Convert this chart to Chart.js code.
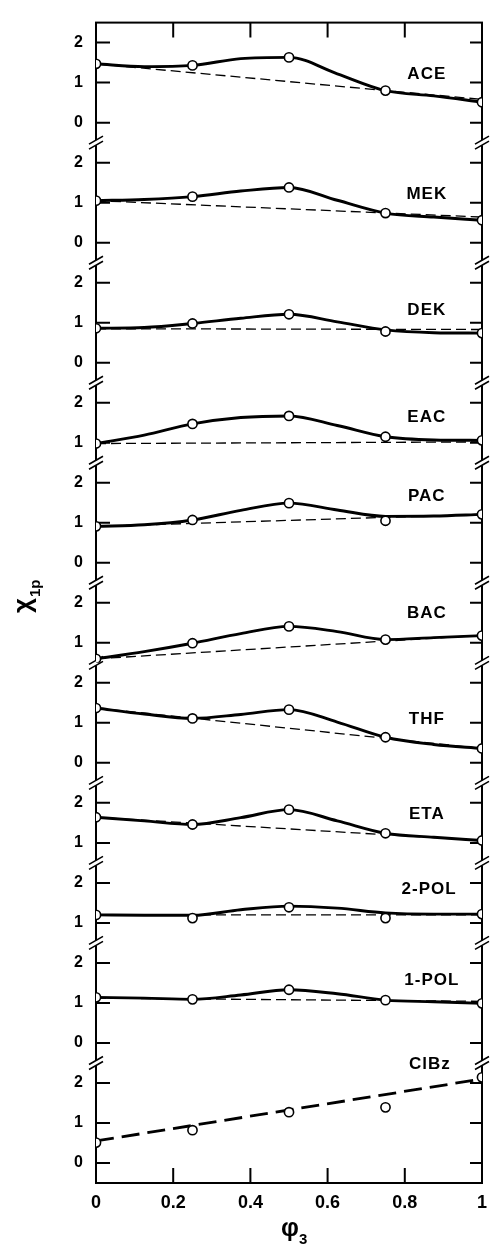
<!DOCTYPE html>
<html>
<head>
<meta charset="utf-8">
<title>chi 1p vs phi3</title>
<style>
  html, body { margin: 0; padding: 0; background: #fff; }
  #wrap { width: 496px; height: 1244px; }
</style>
</head>
<body>
<div id="wrap"><canvas id="chart"></canvas></div>
<script src="https://cdn.jsdelivr.net/npm/chart.js@4/dist/chart.umd.min.js"></script>
<script>
const solvents = ['ACE', 'MEK', 'DEK', 'EAC', 'PAC', 'BAC', 'THF', 'ETA', '2-POL', '1-POL', 'ClBz'];
// lowest tick value printed on each panel's axis
const lowestTick = [0, 0, 0, 1, 0, 1, 0, 1, 1, 0, 0];
const yTicks = [0, 1, 2];
const xTicks = [0, 0.2, 0.4, 0.6, 0.8, 1];

const phi3 = [0, 0.25, 0.5, 0.75, 1];
const chiMeasured = [
    [1.47, 1.43, 1.63, 0.80, 0.51],
    [1.05, 1.15, 1.38, 0.74, 0.56],
    [0.86, 0.98, 1.21, 0.78, 0.74],
    [0.98, 1.47, 1.67, 1.15, 1.06],
    [0.91, 1.07, 1.49, 1.05, 1.21],
    [0.60, 0.99, 1.41, 1.08, 1.18],
    [1.37, 1.11, 1.33, 0.64, 0.36],
    [1.64, 1.46, 1.83, 1.24, 1.06],
    [1.20, 1.12, 1.39, 1.12, 1.22],
    [1.14, 1.09, 1.33, 1.07, 0.99],
    [0.51, 0.82, 1.27, 1.39, 2.14]
];

// drawn smooth curves (ClBz has none)
const phi3Curve = [0, 0.125, 0.25, 0.375, 0.5, 0.625, 0.75, 0.875, 1];
const chiCurve = [
    [1.47, 1.40, 1.43, 1.60, 1.63, 1.22, 0.80, 0.67, 0.51],
    [1.05, 1.08, 1.15, 1.29, 1.38, 1.06, 0.74, 0.64, 0.56],
    [0.86, 0.88, 0.98, 1.11, 1.21, 1.02, 0.82, 0.75, 0.74],
    [0.98, 1.19, 1.47, 1.63, 1.67, 1.43, 1.15, 1.07, 1.06],
    [0.91, 0.95, 1.07, 1.31, 1.49, 1.32, 1.16, 1.17, 1.21],
    [0.60, 0.78, 0.99, 1.23, 1.41, 1.28, 1.08, 1.13, 1.18],
    [1.37, 1.22, 1.11, 1.21, 1.33, 1.02, 0.64, 0.46, 0.36],
    [1.64, 1.55, 1.46, 1.63, 1.83, 1.55, 1.24, 1.14, 1.06],
    [1.20, 1.19, 1.19, 1.33, 1.42, 1.37, 1.25, 1.22, 1.22],
    [1.14, 1.12, 1.09, 1.20, 1.33, 1.23, 1.07, 1.03, 0.99],
    null
];

// dashed straight lines, values at phi3 = 0 and 1
const chiIdeal = [
    [1.47, 0.58], [1.05, 0.64], [0.85, 0.83], [0.98, 1.02], [0.91, 1.21], [0.60, 1.19],
    [1.37, 0.36], [1.64, 1.06], [1.20, 1.20], [1.12, 1.04], [0.55, 2.10]
];

// where the solvent names sit: [phi3, chi]
const labelAt = [
    [0.857, 1.2], [0.857, 1.2], [0.857, 1.31], [0.857, 1.64], [0.857, 1.65], [0.857, 1.74],
    [0.857, 1.08], [0.857, 1.71], [0.863, 1.85], [0.87, 1.56], [0.865, 2.47]
];

const FONT = "'Liberation Sans', Arial, sans-serif";
Chart.defaults.font.family = FONT;
Chart.defaults.color = '#000';

const last = solvents.length - 1;

const scales = {
    x: {
        type: 'linear',
        position: 'bottom',
        min: 0,
        max: 1,
        grid: { display: false, drawTicks: false },
        border: { display: false },
        ticks: {
            padding: 9,
            font: { size: 18, weight: 'bold' },
            callback: v => (v === 0 || v === 1) ? String(v) : v.toFixed(1)
        },
        afterBuildTicks: s => { s.ticks = xTicks.map(v => ({ value: v })); },
        afterFit: s => { s.height = 61; }
    }
};

solvents.forEach((name, i) => {
    const min = lowestTick[i] - 0.5;
    scales['y' + i] = {
        type: 'linear',
        position: 'left',
        stack: 'panels',
        stackWeight: 2.5 - min,
        weight: solvents.length - i,
        min: min,
        max: 2.5,
        grid: { display: false, drawTicks: false },
        border: { display: false },
        ticks: { padding: 13, font: { size: 16, weight: 'bold' } },
        afterBuildTicks: s => {
            s.ticks = yTicks.filter(v => v >= lowestTick[i]).map(v => ({ value: v }));
        },
        afterFit: s => { s.width = 96; }
    };
});

const datasets = [];
solvents.forEach((name, i) => {
    const yAxisID = 'y' + i;
    datasets.push({
        label: name,
        yAxisID: yAxisID,
        data: phi3.map((x, j) => ({ x: x, y: chiMeasured[i][j] })),
        showLine: false,
        pointRadius: 4.6,
        pointBackgroundColor: '#fff',
        pointBorderColor: '#000',
        pointBorderWidth: 1.6,
        order: 0
    });
    if (chiCurve[i]) {
        datasets.push({
            label: name + ' curve',
            yAxisID: yAxisID,
            data: phi3Curve.map((x, j) => ({ x: x, y: chiCurve[i][j] })),
            showLine: true,
            cubicInterpolationMode: 'monotone',
            borderColor: '#000',
            borderWidth: 2.9,
            pointRadius: 0,
            order: 1
        });
    }
    datasets.push({
        label: name + ' ideal',
        yAxisID: yAxisID,
        data: [{ x: 0, y: chiIdeal[i][0] }, { x: 1, y: chiIdeal[i][1] }],
        showLine: true,
        borderColor: '#000',
        borderWidth: i === last ? 2.8 : 1.3,
        borderDash: i === last ? [18, 8] : [10, 5],
        pointRadius: 0,
        order: 2
    });
});

const framePlugin = {
    id: 'frame',
    beforeDatasetsDraw(chart) {
        const { ctx, chartArea: a, scales: sc } = chart;
        ctx.save();
        ctx.strokeStyle = '#000';
        ctx.lineWidth = 2;
        ctx.strokeRect(a.left, a.top, a.right - a.left, a.bottom - a.top);

        ctx.beginPath();
        xTicks.slice(1, -1).forEach(v => {
            const px = sc.x.getPixelForValue(v);
            ctx.moveTo(px, a.bottom);
            ctx.lineTo(px, a.bottom - 15);
            ctx.moveTo(px, a.top);
            ctx.lineTo(px, a.top + 15);
        });
        solvents.forEach((name, i) => {
            const ys = sc['y' + i];
            ys.ticks.forEach(t => {
                const py = ys.getPixelForValue(t.value);
                ctx.moveTo(a.left, py);
                ctx.lineTo(a.left + 14, py);
                ctx.moveTo(a.right, py);
                ctx.lineTo(a.right - 12, py);
            });
        });
        ctx.stroke();

        // axis breaks between panels
        ctx.lineWidth = 1.6;
        solvents.slice(0, -1).forEach((name, i) => {
            const y = sc['y' + i].bottom;
            [a.left, a.right].forEach(x => {
                ctx.fillStyle = '#fff';
                ctx.fillRect(x - 2, y - 2.5, 4, 5);
                ctx.beginPath();
                [-2.5, 2.5].forEach(d => {
                    ctx.moveTo(x - 7, y + d + 4);
                    ctx.lineTo(x + 7, y + d - 4);
                });
                ctx.stroke();
            });
        });
        ctx.restore();
    },
    afterDraw(chart) {
        const { ctx, scales: sc } = chart;
        ctx.save();
        ctx.fillStyle = '#000';
        ctx.textBaseline = 'middle';
        ctx.textAlign = 'center';
        ctx.font = 'bold 17px ' + FONT;
        ctx.letterSpacing = '1px';
        solvents.forEach((name, i) => {
            const px = sc.x.getPixelForValue(labelAt[i][0]);
            const py = sc['y' + i].getPixelForValue(labelAt[i][1]);
            ctx.fillText(name, px, py);
        });
        ctx.letterSpacing = '0px';

        // y title: chi_1p, reading upwards
        ctx.textAlign = 'left';
        ctx.textBaseline = 'alphabetic';
        ctx.save();
        ctx.translate(31, 613);
        ctx.rotate(-Math.PI / 2);
        ctx.font = 'bold 26px ' + FONT;
        ctx.fillText('χ', 0, 0);
        const wChi = ctx.measureText('χ').width;
        ctx.font = 'bold 15px ' + FONT;
        ctx.fillText('1p', wChi + 1, 9);
        ctx.restore();

        // x title: phi_3
        ctx.font = 'bold 25px ' + FONT;
        const wPhi = ctx.measureText('φ').width;
        const x0 = sc.x.getPixelForValue(0.5) - 8;
        ctx.fillText('φ', x0, 1236);
        ctx.font = 'bold 15px ' + FONT;
        ctx.fillText('3', x0 + wPhi, 1244);
        ctx.restore();
    }
};

new Chart(document.getElementById('chart'), {
    type: 'scatter',
    data: { datasets: datasets },
    options: {
        responsive: true,
        maintainAspectRatio: false,
        animation: false,
        devicePixelRatio: 1,
        events: [],
        layout: { padding: { top: 16, right: 7, left: 0, bottom: 0 } },
        plugins: { legend: { display: false }, tooltip: { enabled: false } },
        scales: scales
    },
    plugins: [framePlugin]
});
</script>
</body>
</html>
